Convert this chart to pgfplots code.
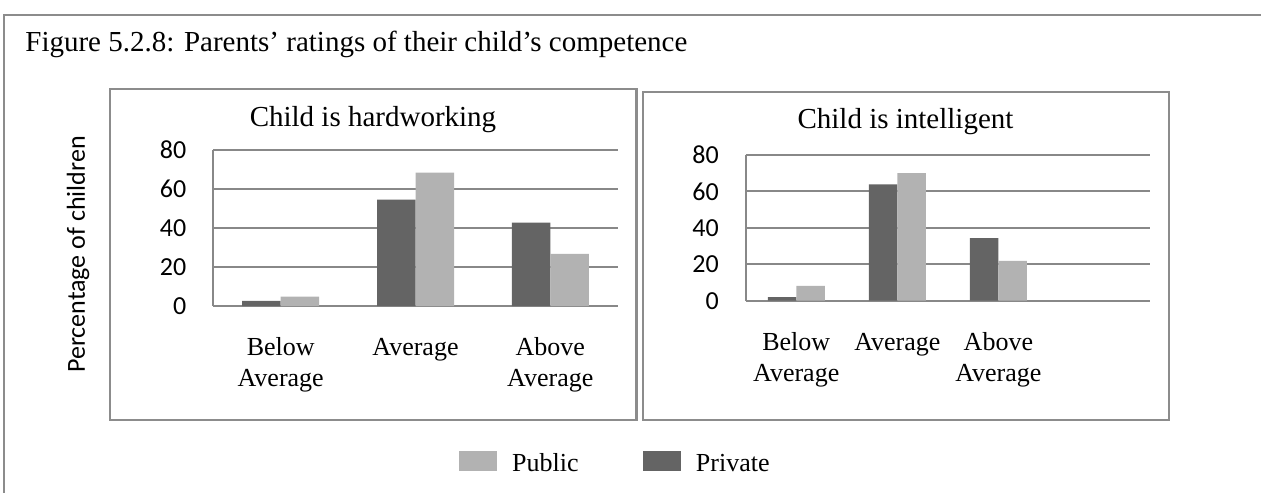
\documentclass[border=0pt]{standalone}
\usepackage{pgfplots}
\pgfplotsset{compat=1.18}
\usepackage{fontspec}
\setmainfont{Liberation Serif}
\newfontfamily\carlito{Carlito}

\definecolor{privgray}{HTML}{646464}
\definecolor{pubgray}{HTML}{B2B2B2}
\definecolor{gridgray}{HTML}{888888}
\definecolor{framegray}{HTML}{8C8C8C}

\newcommand\labelfont{\fontsize{13}{15.5}\selectfont}
\newcommand\titlefont{\fontsize{14.5}{17}\selectfont}

\pgfplotsset{
  panel/.style={
    scale only axis,
    clip=false,
    ybar=0pt,
    ymin=0, ymax=80,
    ytick={0,20,40,60,80},
    xtick={0,1,2},
    xticklabels={{\strut Below\\Average},{\strut Average},{\strut Above\\Average}},
    axis x line*=bottom,
    axis y line*=left,
    axis line style={gridgray, line width=1pt},
    ymajorgrids,
    grid style={gridgray, line width=1pt},
    major tick length=0pt,
    tick style={draw=none},
    /pgf/number format/assume math mode=true,
    yticklabel style={font=\carlito\labelfont, anchor=east, inner sep=0pt, xshift=-13.3pt},
    xticklabel style={font=\labelfont, align=center, anchor=north, inner sep=0pt, yshift=-13.65pt},
    title style={font=\titlefont, anchor=base, inner sep=0pt},
  }
}

\begin{document}
\begin{tikzpicture}
\useasboundingbox (0pt,0pt) rectangle (630.5pt,246pt);

% outer frame and panel borders
\draw[framegray, line width=1pt] (2pt,-5pt) -- (2pt,238.5pt) -- (640pt,238.5pt);
\draw[framegray, line width=1.1pt] (55pt,36pt) rectangle (318.25pt,201.35pt);
\draw[framegray, line width=1.1pt] (321.35pt,36pt) rectangle (584.65pt,200.15pt);

\node[anchor=base west, inner sep=0pt, font=\titlefont] at (12.5pt,220pt)
  {Figure 5.2.8: Parents’ ratings of their child’s competence};

% hardworking
\begin{axis}[panel,
  at={(106.65pt,93pt)}, anchor=south west,
  width=202.2pt, height=78pt,
  xmin=-0.5, xmax=2.5,
  bar width=19.25pt,
  title={Child is hardworking},
  title style={at={(axis description cs:0.3949,1.075)}},
  ylabel={Percentage of children},
  ylabel style={font=\carlito\labelfont, at={(axis description cs:-0.3173,0.3301)}, anchor=base, inner sep=0pt},
  legend columns=2,
  reverse legend,
  legend image code/.code={\fill[#1] (0pt,0.5pt) rectangle (19.2pt,10.5pt);},
  legend style={at={(axis description cs:0.6058,-1.0833)}, anchor=south west,
    draw=none, fill=none, inner sep=0pt, font=\labelfont,
    nodes={inner sep=0pt, anchor=base west},
    /tikz/every odd column/.style={column sep=7.5pt},
    /tikz/every even column/.style={column sep=32pt}},
]
\addplot[fill=privgray, draw=none] coordinates {(0,2.6) (1,54.6) (2,42.7)};
\addlegendentry{Private}
\addplot[fill=pubgray, draw=none] coordinates {(0,4.8) (1,68.4) (2,26.7)};
\addlegendentry{Public}
\end{axis}

% intelligent
\begin{axis}[panel,
  at={(372.85pt,95.65pt)}, anchor=south west,
  width=202.15pt, height=72.85pt,
  xmin=-0.5, xmax=3.5,
  bar width=14.25pt,
  title={Child is intelligent},
  title style={at={(axis description cs:0.3952,1.0981)}},
]
\addplot[fill=privgray, draw=none] coordinates {(0,1.9) (1,63.9) (2,34.4)};
\addplot[fill=pubgray, draw=none] coordinates {(0,8.1) (1,70.0) (2,21.8)};
\end{axis}
\end{tikzpicture}
\end{document}
